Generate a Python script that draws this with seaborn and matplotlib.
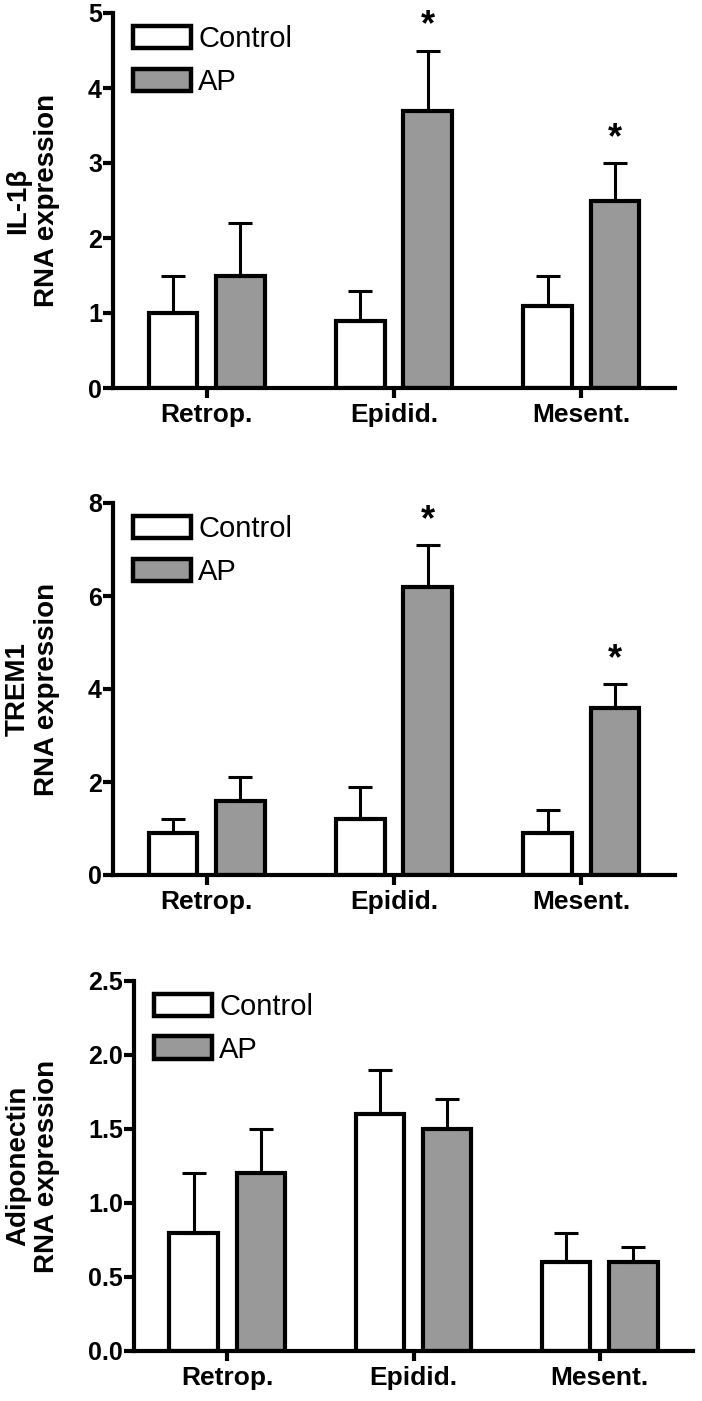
import numpy as np
import pandas as pd
import matplotlib
matplotlib.use("Agg")
import matplotlib.pyplot as plt
import seaborn as sns

# ---------------- data ----------------
sites = ["Retrop.", "Epidid.", "Mesent."]
groups = ["Control", "AP"]

il1b_control = [1.0, 0.9, 1.1]
il1b_control_err = [0.5, 0.4, 0.4]
il1b_ap = [1.5, 3.7, 2.5]
il1b_ap_err = [0.7, 0.8, 0.5]
il1b_sig = ["", "*", "*"]

trem1_control = [0.9, 1.2, 0.9]
trem1_control_err = [0.3, 0.7, 0.5]
trem1_ap = [1.6, 6.2, 3.6]
trem1_ap_err = [0.5, 0.9, 0.5]
trem1_sig = ["", "*", "*"]

adipo_control = [0.8, 1.6, 0.6]
adipo_control_err = [0.4, 0.3, 0.2]
adipo_ap = [1.2, 1.5, 0.6]
adipo_ap_err = [0.3, 0.2, 0.1]
adipo_sig = ["", "", ""]

ylabels = ["IL-1\u03b2\nRNA expression", "TREM1\nRNA expression", "Adiponectin\nRNA expression"]
yticks_list = [[0, 1, 2, 3, 4, 5], [0, 2, 4, 6, 8], [0.0, 0.5, 1.0, 1.5, 2.0, 2.5]]
ytick_fmt = ["{:.0f}", "{:.0f}", "{:.1f}"]

panels = [
    (il1b_control, il1b_control_err, il1b_ap, il1b_ap_err, il1b_sig),
    (trem1_control, trem1_control_err, trem1_ap, trem1_ap_err, trem1_sig),
    (adipo_control, adipo_control_err, adipo_ap, adipo_ap_err, adipo_sig),
]

# ---------------- style ----------------
sns.set_theme(style="white")
plt.rcParams["font.family"] = ["Liberation Sans", "DejaVu Sans"]
plt.rcParams["text.color"] = "black"
plt.rcParams["axes.labelcolor"] = "black"
plt.rcParams["xtick.color"] = "black"
plt.rcParams["ytick.color"] = "black"

W, H = 702, 1401
fig = plt.figure(figsize=(W / 100, H / 100), dpi=100)

# axes rectangles in pixels: left, top, right, bottom
rects_px = [(113, 13, 675, 388), (113, 503, 675, 875), (134, 981, 693, 1351)]
colors = {"Control": "#ffffff", "AP": "#999999"}

for i, ((c, ce, a, ae, sig), (l, t, r, b)) in enumerate(zip(panels, rects_px)):
    ax = fig.add_axes([l / W, 1 - b / H, (r - l) / W, (b - t) / H])
    df = pd.DataFrame({
        "site": sites * 2,
        "group": [groups[0]] * 3 + [groups[1]] * 3,
        "value": list(c) + list(a),
    })
    sns.barplot(data=df, x="site", y="value", hue="group", order=sites,
                hue_order=groups, palette=colors, width=0.72, gap=0.28,
                edgecolor="black", linewidth=3, errorbar=None, ax=ax,
                legend=False, saturation=1)
    errs = [ce, ae]
    for cont, err in zip(ax.containers, errs):
        xs = [p.get_x() + p.get_width() / 2 for p in cont.patches]
        ys = [p.get_height() for p in cont.patches]
        ax.errorbar(xs, ys, yerr=[np.zeros(len(err)), err], fmt="none",
                    ecolor="black", elinewidth=2.2, capsize=8.5, capthick=2.2,
                    zorder=1)
    # significance stars
    ap_cont = ax.containers[1]
    ymax = yticks_list[i][-1]
    for p, e, s in zip(ap_cont.patches, ae, sig):
        if s:
            ax.text(p.get_x() + p.get_width() / 2, p.get_height() + e + ymax * 0.04, s,
                    ha="center", va="baseline", fontsize=26, fontweight="bold",
                    clip_on=False)

    ax.set_xlim(-0.5, 2.5)
    ax.set_ylim(yticks_list[i][0], yticks_list[i][-1])
    ax.set_yticks(yticks_list[i])
    ax.set_yticklabels([ytick_fmt[i].format(v) for v in yticks_list[i]],
                       fontsize=18, fontweight="bold")
    ax.set_xticks(range(len(sites)))
    ax.set_xticklabels(sites, fontsize=19, fontweight="bold")
    ax.set_xlabel("")
    ax.set_ylabel(ylabels[i], fontsize=20, fontweight="bold", linespacing=1.15)
    for sp in ["top", "right"]:
        ax.spines[sp].set_visible(False)
    for sp in ["left", "bottom"]:
        ax.spines[sp].set_linewidth(3)
        ax.spines[sp].set_color("black")
        ax.spines[sp].set_capstyle("projecting")
    ax.tick_params(axis="y", direction="out", length=7, width=3, pad=1,
                   left=True, colors="black")
    ax.tick_params(axis="x", direction="out", length=7, width=3, pad=4,
                   bottom=True, colors="black")
    ax.yaxis.set_label_coords((60 - l) / (r - l), 0.5)

    handles = [plt.Rectangle((0, 0), 1, 1, facecolor=colors[g], edgecolor="black",
                             linewidth=3.2) for g in groups]
    ax.legend(handles, groups, loc="upper left", bbox_to_anchor=(0.03, 0.975),
              frameon=False, fontsize=21, handlelength=2.0, handleheight=0.8,
              handletextpad=0.25, labelspacing=0.5, borderaxespad=0, borderpad=0.1)
    ax.set_facecolor("white")

fig.savefig("out.png", dpi=100, facecolor="white")
